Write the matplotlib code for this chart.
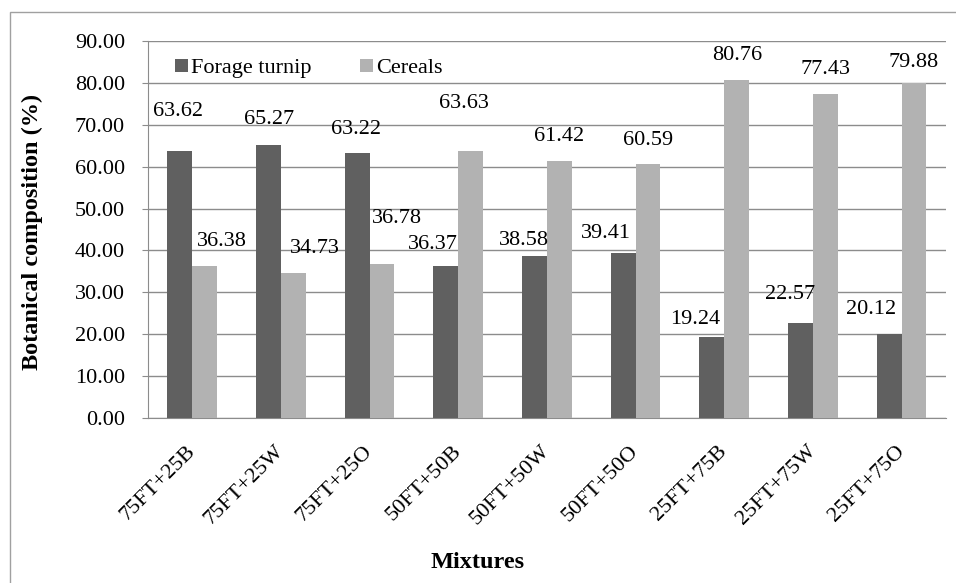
import matplotlib.pyplot as plt
import numpy as np
from matplotlib.patches import Rectangle

# Data
mixtures = ['75FT+25B', '75FT+25W', '75FT+25O', '50FT+50B', '50FT+50W',
            '50FT+50O', '25FT+75B', '25FT+75W', '25FT+75O']
forage_turnip = [63.62, 65.27, 63.22, 36.37, 38.58, 39.41, 19.24, 22.57, 20.12]
cereals = [36.38, 34.73, 36.78, 63.63, 61.42, 60.59, 80.76, 77.43, 79.88]

# label offsets from bar top (pixels), placed by hand in the original
ft_offsets = [(-2, 40), (0, 25), (-1, 24), (-13, 21), (-11, 16), (-17, 19), (-17, 18), (-10, 29), (-18, 24)]
ce_offsets = [(17, 24), (21, 24), (15, 45), (-7, 48), (0, 24), (0, 24), (0, 24), (0, 24), (0, 21)]

plt.rcParams['font.family'] = ['Liberation Serif', 'DejaVu Serif']

dark = '#606060'
light = '#b2b2b2'
grid = '#8c8c8c'
fs = 16

fig = plt.figure(figsize=(9.56, 5.83), dpi=100)
ax = fig.add_axes([0.1548, 0.283, 0.8347, 0.6467])

x = np.arange(len(mixtures))
w = 0.28
b1 = ax.bar(x - w / 2, forage_turnip, w, color=dark, label='Forage turnip', zorder=3)
b2 = ax.bar(x + w / 2, cereals, w, color=light, label='Cereals', zorder=3)

for bars, vals, offs in [(b1, forage_turnip, ft_offsets), (b2, cereals, ce_offsets)]:
    for rect, v, off in zip(bars, vals, offs):
        ax.annotate(f'{v:.2f}', (rect.get_x() + rect.get_width() / 2, v),
                    xytext=off, textcoords='offset pixels', ha='center', va='center',
                    fontsize=fs, color='black', zorder=4)

ax.set_xlim(-0.5, len(mixtures) - 0.5)
ax.set_ylim(0, 90)
ax.set_yticks(np.arange(0, 91, 10))
ax.set_yticklabels([f'{t:.2f}' for t in np.arange(0, 91, 10)], fontsize=fs)
ax.set_xticks(x)
ax.set_xticklabels(mixtures, rotation=45, ha='right', va='center',
                   rotation_mode='anchor', fontsize=fs)
ax.tick_params(axis='x', length=0, pad=22)
ax.tick_params(axis='y', length=4.5, color=grid, pad=12)

ax.yaxis.grid(True, color=grid, linewidth=1, zorder=0)
ax.set_axisbelow(True)
for s in ['top', 'right']:
    ax.spines[s].set_visible(False)
ax.spines['left'].set_color(grid)
ax.spines['bottom'].set_color(grid)

ax.set_ylabel('Botanical composition (%)', fontsize=17.5, fontweight='bold')
ax.set_xlabel('Mixtures', fontsize=17.5, fontweight='bold')

ax.legend(loc='upper left', bbox_to_anchor=(0.012, 1.0), ncol=2, frameon=False,
          fontsize=fs, handlelength=0.55, handleheight=0.55, handletextpad=0.15,
          columnspacing=2.2, borderaxespad=0.4)

# place axis titles in figure coordinates
ax.yaxis.set_label_coords(32 / 956, 1 - 232 / 583, transform=fig.transFigure)
ax.xaxis.set_label_coords(478 / 956, 1 - 562 / 583, transform=fig.transFigure)
ax.xaxis.label.set_va('center')
ax.yaxis.label.set_va('center')

# outer chart border
fig.patches.append(Rectangle((10 / 956, -0.02), 1.0, 1 - 12 / 583 + 0.02,
                             transform=fig.transFigure, fill=False,
                             edgecolor='#a0a0a0', linewidth=1))

fig.savefig('out.png', dpi=100)
